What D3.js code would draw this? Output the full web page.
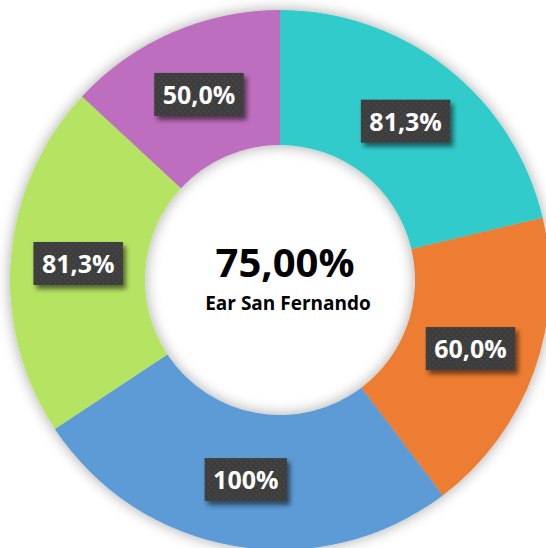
<!DOCTYPE html>
<html>
<head>
<meta charset="utf-8">
<script src="https://cdn.jsdelivr.net/npm/d3@7"></script>
<style>
  body { margin: 0; background: #fff; }
  svg { display: block; }
</style>
</head>
<body>
<div id="chart"></div>
<script>
// slice shares as drawn (percent of the ring) and the labels shown on them
const categories = ['A', 'B', 'C', 'D', 'E'];
const sliceShares = [21.3, 18.4, 26.0, 21.2, 13.1];
const sliceLabels = ['81,3%', '60,0%', '100%', '81,3%', '50,0%'];
const colors = ['#33cbcb', '#ed7d31', '#5b9bd5', '#b4e462', '#be6ebe'];
const centerValue = '75,00%';
const centerTitle = 'Ear San Fernando';

const width = 546, height = 548;
const cx = 280, cy = 280;
const outerR = 270, innerR = 135;

const svg = d3.select('#chart').append('svg')
    .attr('width', width)
    .attr('height', height);

const defs = svg.append('defs');

// soft shadow around the ring (falls outward and into the hole)
const ringShadow = defs.append('filter')
    .attr('id', 'ringShadow')
    .attr('x', '-20%').attr('y', '-20%')
    .attr('width', '140%').attr('height', '140%');
ringShadow.append('feDropShadow')
    .attr('dx', 0).attr('dy', 0)
    .attr('stdDeviation', 7)
    .attr('flood-color', '#000')
    .attr('flood-opacity', 0.35);

// shadow under label boxes
const boxShadow = defs.append('filter')
    .attr('id', 'boxShadow')
    .attr('x', '-30%').attr('y', '-30%')
    .attr('width', '160%').attr('height', '170%');
boxShadow.append('feDropShadow')
    .attr('dx', 3).attr('dy', 4)
    .attr('stdDeviation', 2.5)
    .attr('flood-color', '#000')
    .attr('flood-opacity', 0.55);

// dotted texture of the label boxes
const pat = defs.append('pattern')
    .attr('id', 'dots')
    .attr('patternUnits', 'userSpaceOnUse')
    .attr('width', 6).attr('height', 6);
pat.append('rect').attr('width', 6).attr('height', 6).attr('fill', '#3c3c3c');
pat.append('circle').attr('cx', 1.5).attr('cy', 1.5).attr('r', 0.9).attr('fill', '#4d4d4d');
pat.append('circle').attr('cx', 4.5).attr('cy', 4.5).attr('r', 0.9).attr('fill', '#4d4d4d');

const pie = d3.pie()
    .sort(null)
    .value(d => d.share);

const arc = d3.arc()
    .innerRadius(innerR)
    .outerRadius(outerR);

const data = categories.map((c, i) => ({
    name: c,
    share: sliceShares[i],
    label: sliceLabels[i],
    color: colors[i]
}));

const arcs = pie(data);

const g = svg.append('g')
    .attr('transform', 'translate(' + cx + ',' + cy + ')');

g.append('g')
    .attr('filter', 'url(#ringShadow)')
    .selectAll('path')
    .data(arcs)
    .enter()
    .append('path')
    .attr('d', arc)
    .attr('fill', d => d.data.color);

// labels in dark boxes at the slice centroids
const labels = g.selectAll('.slice-label')
    .data(arcs)
    .enter()
    .append('g')
    .attr('class', 'slice-label')
    .attr('transform', d => 'translate(' + arc.centroid(d) + ')');

const boxRects = labels.append('rect')
    .attr('fill', 'url(#dots)')
    .attr('filter', 'url(#boxShadow)');

const boxTexts = labels.append('text')
    .attr('text-anchor', 'middle')
    .attr('y', 9.5)
    .attr('fill', '#fff')
    .style('font-family', '"Open Sans", sans-serif')
    .style('font-weight', 700)
    .style('font-size', '25px')
    .text(d => d.data.label);

boxTexts.each(function () {
    const w = this.getComputedTextLength() + 17;
    d3.select(this.parentNode).select('rect')
        .attr('x', -w / 2)
        .attr('y', -21.5)
        .attr('width', w)
        .attr('height', 43);
});

// center text
g.append('text')
    .attr('x', 5)
    .attr('y', -3)
    .attr('text-anchor', 'middle')
    .attr('fill', '#000')
    .style('font-family', '"Open Sans", sans-serif')
    .style('font-weight', 700)
    .style('font-size', '40px')
    .text(centerValue);

g.append('text')
    .attr('x', 8)
    .attr('y', 29.5)
    .attr('text-anchor', 'middle')
    .attr('fill', '#000')
    .style('font-family', '"Open Sans", sans-serif')
    .style('font-weight', 700)
    .style('font-size', '19px')
    .text(centerTitle);
</script>
</body>
</html>
